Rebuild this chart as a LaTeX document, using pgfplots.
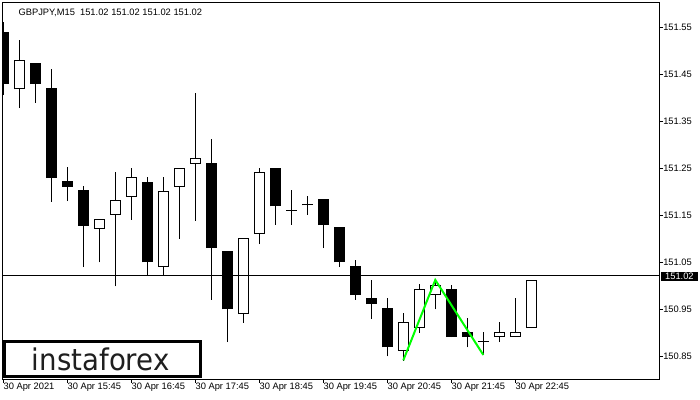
\documentclass[border=0pt]{standalone}
\usepackage{fontspec}
\setmainfont{Liberation Sans}
\newfontfamily\logofont{DejaVu Sans}
\usepackage{graphicx}
\usepackage{pgfplots}
\usepackage{pgfplotstable}
\pgfplotsset{compat=1.18}
\definecolor{zigzag}{RGB}{0,255,0}

% GBPJPY M15, candles k=0 (14:45) ... 33
\pgfplotstableread{
k  o        h        l        c
0  151.539  151.561  151.407  151.431
1  151.419  151.521  151.379  151.480
2  151.472  151.472  151.390  151.430
3  151.420  151.461  151.180  151.230
4  151.221  151.251  151.181  151.211
5  151.202  151.212  151.041  151.129
6  151.122  151.142  151.051  151.142
7  151.152  151.242  151.000  151.182
8  151.190  151.250  151.142  151.231
9  151.220  151.231  151.023  151.051
10 151.041  151.231  151.023  151.201
11 151.212  151.250  151.101  151.250
12 151.261  151.410  151.140  151.271
13 151.261  151.312  150.971  151.081
14 151.072  151.072  150.881  150.951
15 150.941  151.101  150.922  151.101
16 151.112  151.250  151.090  151.241
17 151.250  151.250  151.131  151.170
18 151.161  151.202  151.131  151.161
19 151.172  151.191  151.152  151.172
20 151.183  151.183  151.081  151.130
21 151.123  151.123  151.041  151.051
22 151.042  151.053  150.971  150.981
23 150.972  151.012  150.931  150.962
24 150.952  150.972  150.851  150.870
25 150.863  150.942  150.842  150.922
26 150.912  151.002  150.901  150.993
27 150.981  151.012  150.951  151.001
28 150.993  151.001  150.892  150.892
29 150.901  150.931  150.870  150.892
30 150.881  150.901  150.853  150.881
31 150.892  150.922  150.881  150.901
32 150.892  150.972  150.892  150.901
33 150.911  151.012  150.911  151.012
}\ohlc

% pixel (x from left, y from top) -> picture coordinates, 1px = 0.75pt
\newcommand{\px}[2]{({#1*0.75pt},{(400-#2)*0.75pt})}

\begin{document}
\begin{tikzpicture}
\path[use as bounding box] (0,0) rectangle (525pt,300pt);
\begin{axis}[
  at={(1.875pt,15.525pt)}, anchor=south west,
  scale only axis, width=492.9pt, height=282.6pt,
  xmin=-0.05, xmax=41.025, ymin=150.8011, ymax=151.6028,
  clip mode=individual,
  axis line style={black, line width=0.75pt},
  tick align=outside, xtick pos=left, ytick pos=right,
  major tick length=2.5pt,
  tick style={black, line width=0.75pt},
  xtick={0,4,...,32},
  xticklabels={30 Apr 2021, 30 Apr 15:45, 30 Apr 16:45, 30 Apr 17:45, 30 Apr 18:45, 30 Apr 19:45, 30 Apr 20:45, 30 Apr 21:45, 30 Apr 22:45},
  ytick={150.85,150.95,151.05,151.15,151.25,151.35,151.45,151.55},
  yticklabels={150.85,150.95,151.05,151.15,151.25,151.35,151.45,151.55},
  yticklabel pos=right,
  ticklabel style={font=\fontsize{7}{8}\selectfont, text=black},
  xticklabel style={anchor=north west, inner sep=0pt},
  yticklabel style={anchor=west, inner sep=0pt},
  candle/.style={draw=none, mark=none,
    error bars/.cd, y dir=plus, y explicit, error mark=none},
]
% wicks
\addplot[candle, error bar style={draw=black, line width=0.75pt}]
  table[x=k, y expr={\thisrow{l}-0.001064},
        y error plus expr={\thisrow{h}-\thisrow{l}+0.002128}] {\ohlc};
% body outlines / black bodies
\addplot[candle, error bar style={draw=black, line width=8.25pt}]
  table[x=k, y expr={min(\thisrow{o},\thisrow{c})-0.001064},
        y error plus expr={abs(\thisrow{c}-\thisrow{o})+0.002128}] {\ohlc};
% white insides of rising candles
\addplot[candle, error bar style={draw=white, line width=6.75pt}]
  table[x=k, y expr={(\thisrow{c}-\thisrow{o}>0.003) ? (\thisrow{o}+0.001064) : 150},
        y error plus expr={abs(\thisrow{c}-\thisrow{o}-0.002128)}] {\ohlc};
% current price line
\addplot[black, line width=0.75pt] coordinates {(-1,151.0223) (42,151.0223)};
% pattern
\addplot[zigzag, line width=1.5pt] coordinates {(25,150.8415) (27,151.0125) (30,150.853)};
\end{axis}
\node[anchor=west, fill=black, text=white, inner sep=0pt,
  minimum width=27.2pt, minimum height=7pt, font=\fontsize{7}{8}\selectfont]
  at \px{661}{276.3} {151.02};
\node[anchor=base west, inner sep=0pt, font=\fontsize{7}{8}\selectfont]
  at \px{18.3}{15.3} {GBPJPY,M15\ \ 151.02 151.02 151.02 151.02};
\draw[black, line width=2.25pt, fill=white] \px{4.2}{341.5} rectangle \px{200.8}{376.5};
\node[anchor=base west, inner sep=0pt, text=black!88]
  at \px{31.7}{371} {\resizebox{103.2pt}{17pt}{\logofont instaforex}};
\end{tikzpicture}
\end{document}
